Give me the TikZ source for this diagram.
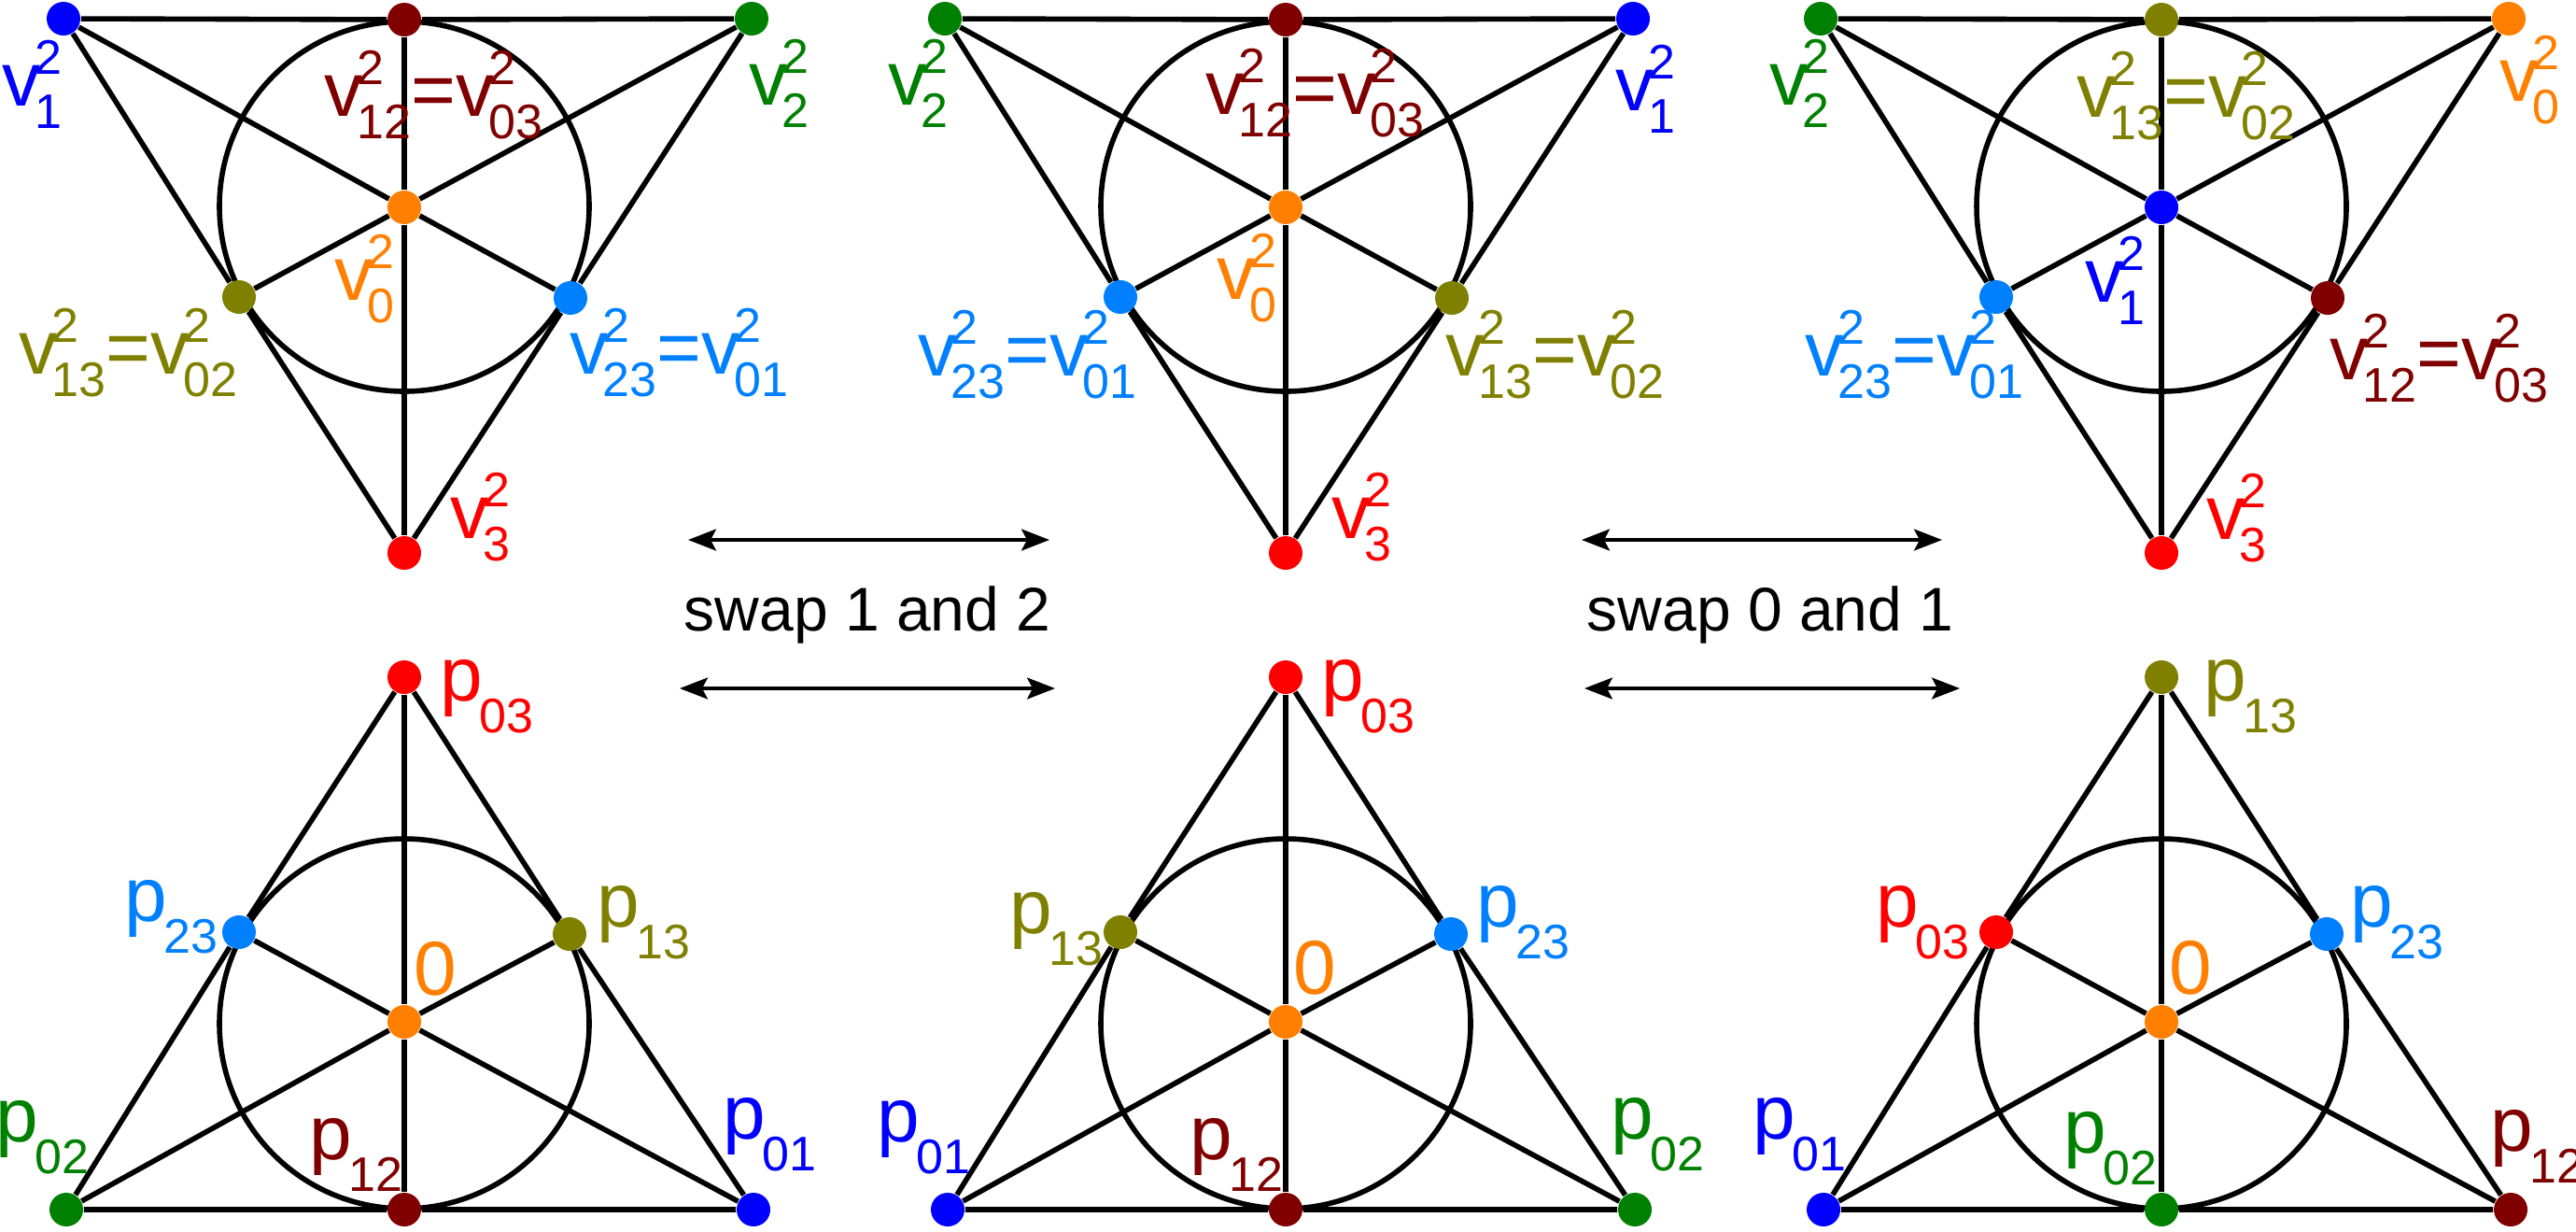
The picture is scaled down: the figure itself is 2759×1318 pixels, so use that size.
\documentclass[tikz,border=0pt]{standalone}
\usepackage{fontspec}
\setmainfont{Liberation Sans}
\usetikzlibrary{arrows.meta}
\definecolor{cblue}{RGB}{0,0,255}
\definecolor{cgreen}{RGB}{0,128,0}
\definecolor{cdred}{RGB}{128,0,0}
\definecolor{corange}{RGB}{255,128,0}
\definecolor{colive}{RGB}{128,128,0}
\definecolor{clblue}{RGB}{0,128,255}
\definecolor{cred}{RGB}{255,0,0}
\newcommand\labfont{\fontsize{20.5pt}{24pt}\selectfont}
\newcommand\swapfont{\fontsize{16.5pt}{20pt}\selectfont}
\newcommand\lbscr{\fontsize{13pt}{15pt}\selectfont}
\newcommand\vlab[1]{v\kern-1.5pt\rlap{\raisebox{8.5pt}{\lbscr 2}}\raisebox{-6pt}{\lbscr #1}}
\newcommand\plab[1]{p\kern-1pt\raisebox{-8.5pt}{\lbscr #1}}
\tikzset{
  fdot/.style={circle, fill=#1, draw=none, inner sep=0pt, minimum size=9pt},
  edge/.style={line width=1.4pt, black},
  lab/.style={inner sep=0pt, anchor=base west, text=#1, font=\labfont},
  swaptext/.style={inner sep=0pt, anchor=base west, font=\swapfont},
  swaparrow/.style={line width=0.8pt,
    {Stealth[length=7.5pt,width=5.75pt,inset=1.5pt]}-{Stealth[length=7.5pt,width=5.75pt,inset=1.5pt]}}
}
% #1 prefix, #2 cx, #3 TL, #4 TR, #5 TM, #6 C, #7 L, #8 R, #9 B
\newcommand\TopFano[9]{%
  \draw[edge] (#2,221) circle (198);
  \node[fdot=#3] (#1tl) at ({#2-365},20) {};
  \node[fdot=#4] (#1tr) at ({#2+372},20) {};
  \node[fdot=#5] (#1tm) at (#2,21) {};
  \node[fdot=#6] (#1c) at (#2,222) {};
  \node[fdot=#7] (#1l) at ({#2-177},318) {};
  \node[fdot=#8] (#1r) at ({#2+178},319) {};
  \node[fdot=#9] (#1b) at (#2,592) {};
  \draw[edge] (#1tl) -- (#1tm) -- (#1tr) -- (#1r) -- (#1b) -- (#1l) -- (#1tl);
  \draw[edge] (#1tl) -- (#1c) -- (#1r);
  \draw[edge] (#1tr) -- (#1c) -- (#1l);
  \draw[edge] (#1tm) -- (#1c) -- (#1b);
}
% #1 prefix, #2 cx, #3 T, #4 L, #5 R, #6 C, #7 BL, #8 BR, #9 BM
\newcommand\BotFano[9]{%
  \draw[edge] (#2,1096) circle (198);
  \node[fdot=#3] (#1t) at (#2,725) {};
  \node[fdot=#4] (#1l) at ({#2-177},998) {};
  \node[fdot=#5] (#1r) at ({#2+177},1000) {};
  \node[fdot=#6] (#1c) at (#2,1094) {};
  \node[fdot=#7] (#1bl) at ({#2-362},1295) {};
  \node[fdot=#8] (#1br) at ({#2+374},1295) {};
  \node[fdot=#9] (#1bm) at (#2,1295) {};
  \draw[edge] (#1t) -- (#1l) -- (#1bl) -- (#1bm) -- (#1br) -- (#1r) -- (#1t);
  \draw[edge] (#1bl) -- (#1c) -- (#1r);
  \draw[edge] (#1br) -- (#1c) -- (#1l);
  \draw[edge] (#1t) -- (#1c) -- (#1bm);
}
\begin{document}
\begin{tikzpicture}[x=0.25pt,y=-0.25pt]
\useasboundingbox (0,0) rectangle (2759,1318);
\fill[white] (0,0) rectangle (2759,1318);

\TopFano{A}{433}{cblue}{cgreen}{cdred}{corange}{colive}{clblue}{cred}
\TopFano{B}{1377}{cgreen}{cblue}{cdred}{corange}{clblue}{colive}{cred}
\TopFano{C}{2315}{cgreen}{corange}{colive}{cblue}{clblue}{cdred}{cred}
\BotFano{D}{433}{cred}{clblue}{colive}{corange}{cgreen}{cblue}{cdred}
\BotFano{E}{1377}{cred}{colive}{clblue}{corange}{cblue}{cgreen}{cdred}
\BotFano{F}{2315}{colive}{cred}{clblue}{corange}{cblue}{cdred}{cgreen}

% labels top-left
\node[lab=cblue] (Av1) at (2,113) {\vlab{1}};
\node[lab=cdred] (Av12) at (347,124) {\vlab{12}=\vlab{03}};
\node[lab=cgreen] (Av2) at (802,112) {\vlab{2}};
\node[lab=corange] (Av0) at (358,321) {\vlab{0}};
\node[lab=colive] (Av13) at (20,400) {\vlab{13}=\vlab{02}};
\node[lab=clblue] (Av23) at (610,400) {\vlab{23}=\vlab{01}};
\node[lab=cred] (Av3) at (482,576) {\vlab{3}};
% labels top-middle
\node[lab=cgreen] (Bv2) at (951,112) {\vlab{2}};
\node[lab=cdred] (Bv12) at (1291,122) {\vlab{12}=\vlab{03}};
\node[lab=cblue] (Bv1) at (1730,118) {\vlab{1}};
\node[lab=corange] (Bv0) at (1303,320) {\vlab{0}};
\node[lab=clblue] (Bv23) at (983,402) {\vlab{23}=\vlab{01}};
\node[lab=colive] (Bv13) at (1548,402) {\vlab{13}=\vlab{02}};
\node[lab=cred] (Bv3) at (1426,576) {\vlab{3}};
% labels top-right
\node[lab=cgreen] (Cv2) at (1895,112) {\vlab{2}};
\node[lab=colive] (Cv13) at (2224,125) {\vlab{13}=\vlab{02}};
\node[lab=corange] (Cv0) at (2677,108) {\vlab{0}};
\node[lab=cblue] (Cv1) at (2233,323) {\vlab{1}};
\node[lab=clblue] (Cv23) at (1933,402) {\vlab{23}=\vlab{01}};
\node[lab=cdred] (Cv12) at (2495,406) {\vlab{12}=\vlab{03}};
\node[lab=cred] (Cv3) at (2363,577) {\vlab{3}};
% labels bottom-left
\node[lab=cred] (Dp03) at (471,750) {\plab{03}};
\node[lab=clblue] (Dp23) at (133,986) {\plab{23}};
\node[lab=colive] (Dp13) at (639,992) {\plab{13}};
\node[lab=corange] (D0) at (443,1065) {0};
\node[lab=cgreen] (Dp02) at (-5,1222) {\plab{02}};
\node[lab=cdred] (Dp12) at (331,1241) {\plab{12}};
\node[lab=cblue] (Dp01) at (774,1219) {\plab{01}};
% labels bottom-middle
\node[lab=cred] (Ep03) at (1415,750) {\plab{03}};
\node[lab=colive] (Ep13) at (1081,999) {\plab{13}};
\node[lab=corange] (E0) at (1385,1064) {0};
\node[lab=clblue] (Ep23) at (1581,992) {\plab{23}};
\node[lab=cblue] (Ep01) at (939,1222) {\plab{01}};
\node[lab=cdred] (Ep12) at (1274,1241) {\plab{12}};
\node[lab=cgreen] (Ep02) at (1725,1219) {\plab{02}};
% labels bottom-right
\node[lab=colive] (Fp13) at (2360,750) {\plab{13}};
\node[lab=cred] (Fp03) at (2009,992) {\plab{03}};
\node[lab=corange] (F0) at (2323,1064) {0};
\node[lab=clblue] (Fp23) at (2517,992) {\plab{23}};
\node[lab=cblue] (Fp01) at (1877,1219) {\plab{01}};
\node[lab=cgreen] (Fp02) at (2210,1234) {\plab{02}};
\node[lab=cdred] (Fp12) at (2667,1232) {\plab{12}};

% swap arrows and texts
\coordinate (a1s) at (737,578);
\coordinate (a1e) at (1124,578);
\coordinate (a2s) at (728,737);
\coordinate (a2e) at (1130,737);
\coordinate (a3s) at (1694,578);
\coordinate (a3e) at (2080,578);
\coordinate (a4s) at (1697,737);
\coordinate (a4e) at (2099,737);
\draw[swaparrow] (a1s) -- (a1e);
\draw[swaparrow] (a2s) -- (a2e);
\draw[swaparrow] (a3s) -- (a3e);
\draw[swaparrow] (a4s) -- (a4e);
\node[swaptext] (sw12) at (732,675) {swap 1 and 2};
\node[swaptext] (sw01) at (1699,675) {swap 0 and 1};
\end{tikzpicture}
\end{document}
